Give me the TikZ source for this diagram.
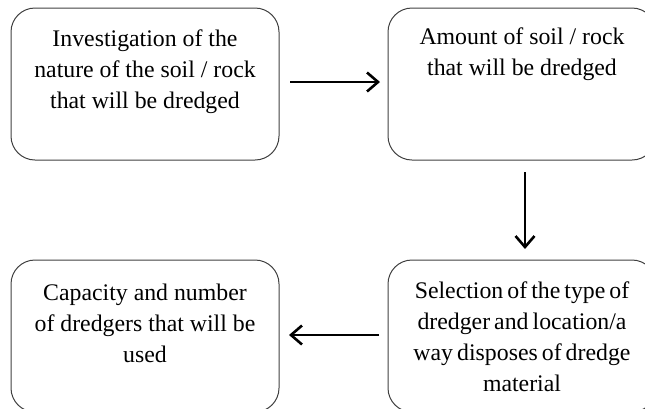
\documentclass[tikz,border=0pt]{standalone}
\usepackage{fontspec}
\setmainfont{Liberation Serif}
\usetikzlibrary{arrows.meta}

\newcommand{\tightspaces}{\spaceskip=0.17em plus 0.05em\relax}

\tikzset{
  stagebox/.style={draw=black!75, line width=1pt, rounded corners=24pt,
    minimum width=268pt, minimum height=152pt, inner sep=0pt},
  stagetext/.style={align=center, inner sep=0pt, anchor=north,
    font=\fontsize{23.8}{31}\selectfont, execute at begin node=\strut},
  flow/.style={line width=2.6pt, -{Straight Barb[length=11pt,width=19pt,line width=2.6pt]}}
}

\begin{document}
\begin{tikzpicture}[x=1pt,y=-1pt]
  \useasboundingbox (0,0) rectangle (645,408);

  % the four stages
  \node[stagebox] (inv) at (145,84) {};
  \node[stagebox] (amt) at (522,84) {};
  \node[stagebox] (sel) at (522,336) {};
  \node[stagebox] (cap) at (145,336) {};

  \node[stagetext] (invt) at ([yshift=-22pt]inv.north)
    {Investigation of the\\nature of the soil / rock\\that will be dredged};
  \node[stagetext] (amtt) at ([yshift=-20pt]amt.north)
    {Amount of soil / rock\\that will be dredged};
  \node[stagetext, font=\fontsize{23.8}{31}\selectfont\tightspaces] (selt) at ([yshift=-22pt]sel.north)
    {Selection of the type of\\dredger and location/a\\way disposes of dredge\\material};
  \node[stagetext] (capt) at ([yshift=-24pt]cap.north)
    {Capacity and number\\of dredgers that will be\\used};

  % connectors between stages
  \coordinate (a1s) at (290,82);
  \coordinate (a1e) at (380,82);
  \coordinate (a2s) at (525,172);
  \coordinate (a2e) at (525,249);
  \coordinate (a3s) at (379,335);
  \coordinate (a3e) at (289,335);
  \draw[flow] (a1s) -- (a1e);
  \draw[flow] (a2s) -- (a2e);
  \draw[flow] (a3s) -- (a3e);
\end{tikzpicture}
\end{document}
